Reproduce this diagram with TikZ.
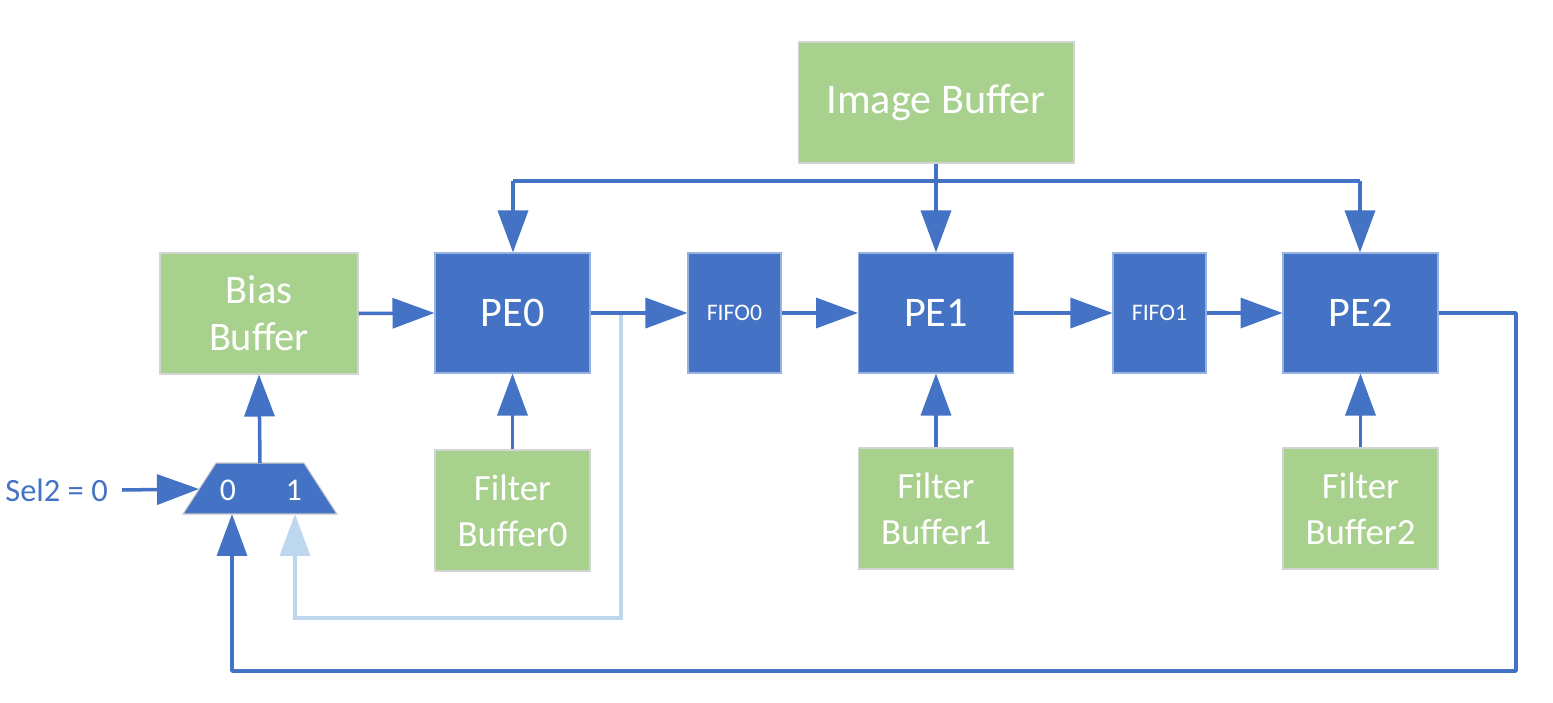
\documentclass[tikz,border=0pt]{standalone}
\usepackage{fontspec}
\setmainfont{Carlito}
\usetikzlibrary{arrows.meta}
\definecolor{accblue}{HTML}{4472C4}
\definecolor{accgreen}{HTML}{A9D18E}
\definecolor{lblue}{HTML}{BDD7EE}
\begin{document}
\begin{tikzpicture}[x=0.02cm,y=-0.02cm,
  gbox/.style={draw=black!17, fill=accgreen, text=white, line width=0.6pt, align=center, inner sep=0pt},
  bbox/.style={draw=accblue!55!white, fill=accblue, text=white, line width=0.6pt, align=center, inner sep=0pt},
  pebox/.style={bbox, minimum width=3.1cm, minimum height=2.4cm, font=\fontsize{24}{28}\selectfont},
  fifobox/.style={bbox, minimum width=1.86cm, minimum height=2.4cm, font=\fontsize{13.5}{16}\selectfont},
  filtbox/.style={gbox, minimum width=3.1cm, minimum height=2.42cm, font=\fontsize{21}{26}\selectfont},
  conn/.style={draw=accblue, line width=2pt, -{Triangle[length=0.84cm,width=0.6cm]}},
  lconn/.style={draw=lblue, line width=2pt, -{Triangle[length=0.84cm,width=0.6cm]}},
  wire/.style={draw=accblue, line width=2pt},
  muxlbl/.style={text=white, font=\fontsize{18}{20}\selectfont, inner sep=0pt}]
\useasboundingbox (0,0) rectangle (1553,703);

% boxes
\node[gbox, minimum width=5.52cm, minimum height=2.42cm, font=\fontsize{24}{28}\selectfont] (img) at (936,102.5) {Image Buffer};
\node[gbox, minimum width=3.96cm, minimum height=2.42cm, font=\fontsize{23}{27}\selectfont] (bias) at (259,313.5) {Bias\\Buffer};
\node[pebox] (pe0) at (512.5,313) {PE0};
\node[pebox] (pe1) at (936,313) {PE1};
\node[pebox] (pe2) at (1360.5,313) {PE2};
\node[fifobox] (fifo0) at (734.5,313) {FIFO0};
\node[fifobox] (fifo1) at (1159.5,313) {FIFO1};
\node[filtbox] (fb0) at (512.5,510.5) {Filter\\Buffer0};
\node[filtbox] (fb1) at (936,508.5) {Filter\\Buffer1};
\node[filtbox] (fb2) at (1360.5,508.5) {Filter\\Buffer2};

% mux
\draw[fill=accblue, draw=black!20, line width=0.6pt] (183,514) -- (216,463) -- (304,463) -- (337,514) -- cycle;
\coordinate (muxtop) at (260,463);
\coordinate (muxin) at (199,489);
\coordinate (mux0) at (232,514);
\coordinate (mux1) at (295,514);
\node[muxlbl] (m0) at (228,490) {0};
\node[muxlbl] (m1) at (294,490) {1};
\node[text=accblue, font=\fontsize{18.5}{20}\selectfont, inner sep=0pt, anchor=west] (sel) at (5,490) {Sel2 = 0};

% light blue feedback (under)
\coordinate (tap) at (621,314);
\coordinate (lb) at (621,618);
\draw[lconn] (tap) -- (lb) -| (mux1);

% bus from image buffer
\coordinate (busL) at (513,181);
\coordinate (busR) at (1360,181);
\draw[wire] (busL) -- (busR);
\draw[conn] (busL) -- (busL |- pe0.north);
\draw[conn] (busR) -- (busR |- pe2.north);
\draw[conn] (img.south) -- (pe1.north);

% main chain
\draw[conn] (bias.east) -- (pe0.west);
\draw[conn] (pe0.east) -- (fifo0.west);
\draw[conn] (fifo0.east) -- (pe1.west);
\draw[conn] (pe1.east) -- (fifo1.west);
\draw[conn] (fifo1.east) -- (pe2.west);

% filters
\draw[conn] (fb0.north) -- (pe0.south);
\draw[conn] (fb1.north) -- (pe1.south);
\draw[conn] (fb2.north) -- (pe2.south);

% mux connections
\draw[conn] (muxtop) -- (bias.south);
\draw[conn] ([xshift=0.28cm]sel.east) -- (muxin);
\coordinate (fbr) at (1516,671);
\draw[conn, line join=round] (pe2.east) -| (fbr) -| (mux0);
\end{tikzpicture}
\end{document}
